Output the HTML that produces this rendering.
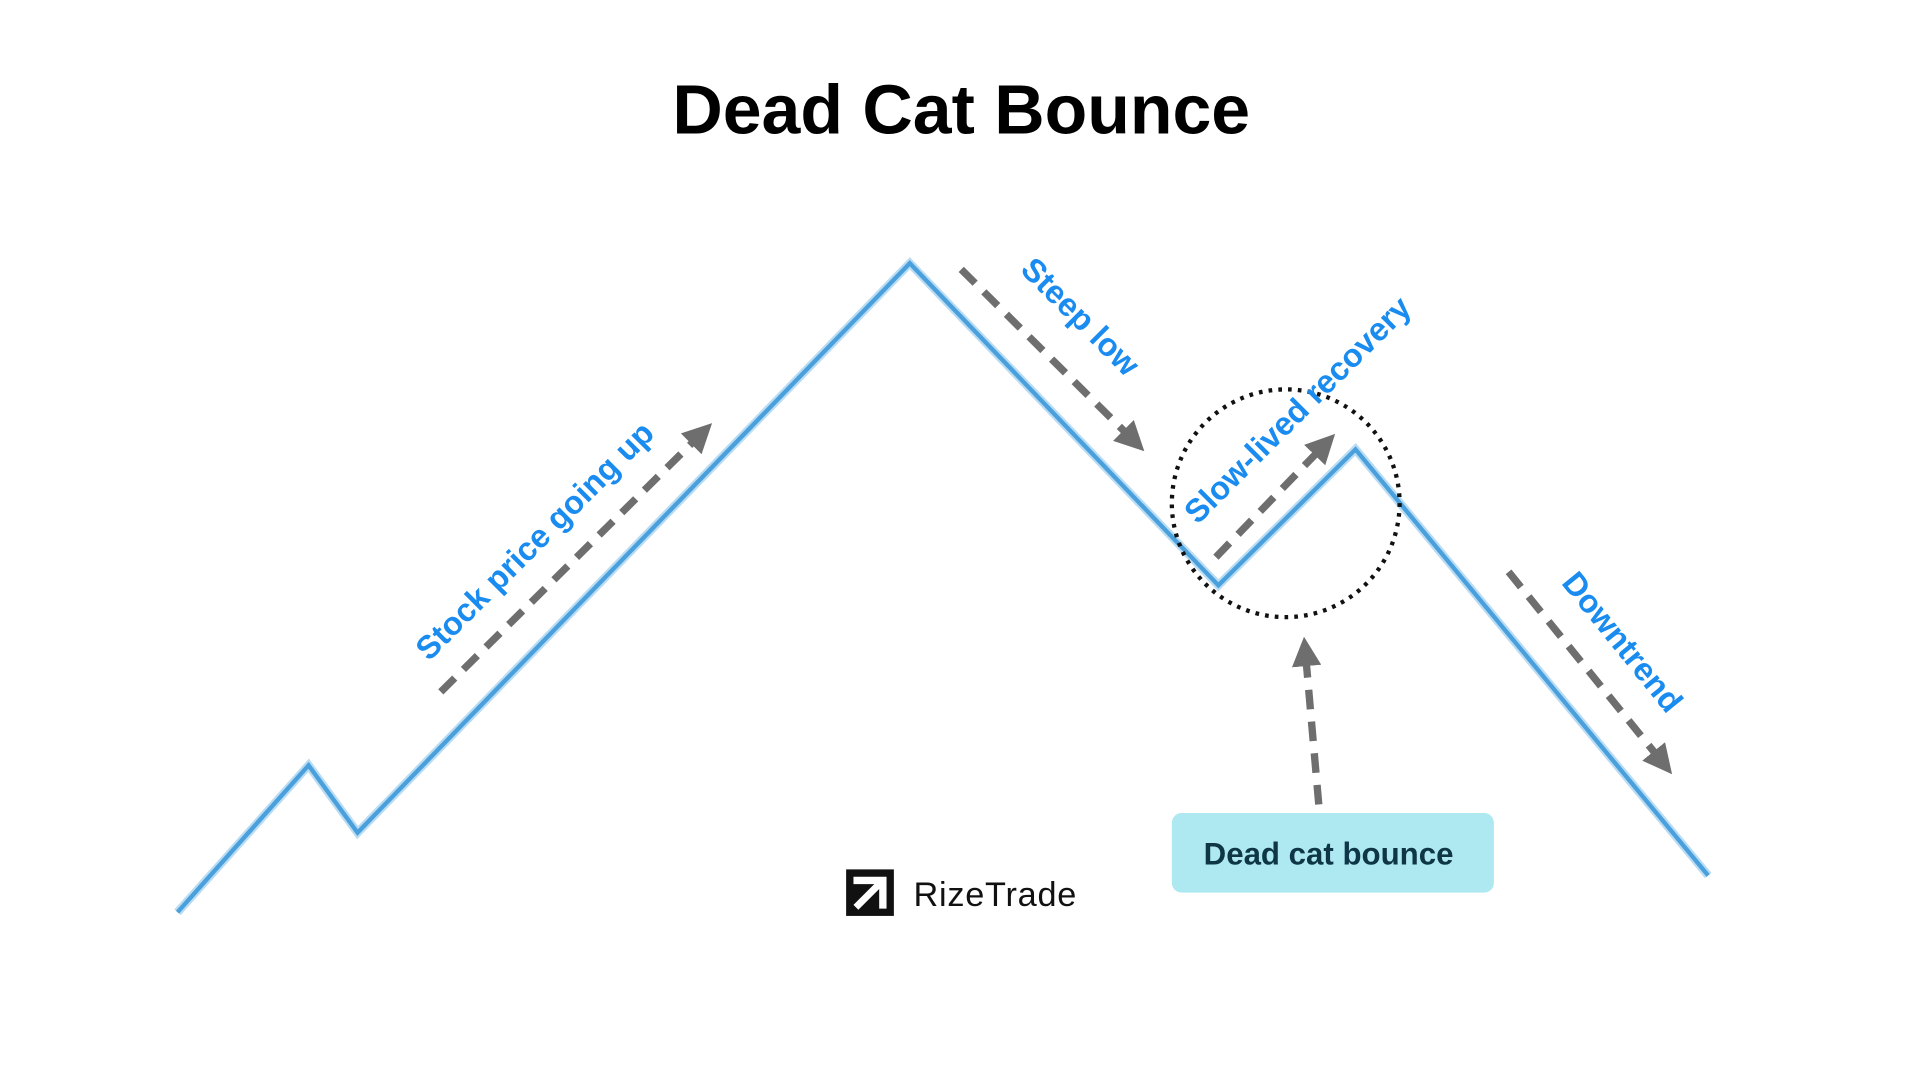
<!DOCTYPE html>
<html><head><meta charset="utf-8"><style>
html,body{margin:0;padding:0;background:#fff;width:1920px;height:1080px;overflow:hidden}
svg{display:block}
</style></head><body>
<svg width="1920" height="1080" viewBox="0 0 1568 882" xmlns="http://www.w3.org/2000/svg">
<defs>
<marker id="ah" markerWidth="4" markerHeight="4" refX="2" refY="2" orient="auto" markerUnits="strokeWidth">
<path d="M0,0 L4,2 L0,4 Z" fill="#6e6e6e"/>
</marker>
</defs>
<text x="785" y="109" text-anchor="middle" font-family="Liberation Sans, sans-serif" font-weight="bold" font-size="57" fill="#000">Dead Cat Bounce</text>
<polyline points="145,745 252,625 292,680 743,215 995,478 1107,367 1395,715" fill="none" stroke="#b9dcf3" stroke-width="7" stroke-linejoin="miter"/>
<polyline points="145,745 252,625 292,680 743,215 995,478 1107,367 1395,715" fill="none" stroke="#4aa0dc" stroke-width="3.5" stroke-linejoin="miter"/>
<g stroke="#6e6e6e" stroke-width="6" stroke-dasharray="16,10" fill="none" marker-end="url(#ah)">
<line x1="360" y1="565" x2="573" y2="354"/>
<line x1="785" y1="220" x2="926" y2="360"/>
<line x1="993" y1="455" x2="1082" y2="363"/>
<line x1="1232" y1="467" x2="1358" y2="623"/>
<line x1="1077" y1="657" x2="1066" y2="532"/>
</g>
<circle cx="1050" cy="411" r="93" fill="none" stroke="#111" stroke-width="3.5" stroke-dasharray="3,5"/>
<g font-family="Liberation Sans, sans-serif" font-weight="bold" font-size="26.5" fill="#1a8cf0" text-anchor="middle">
<text transform="translate(443,448) rotate(-45)">Stock price going up</text>
<text transform="translate(876,265) rotate(45)">Steep low</text>
<text transform="translate(1066,341) rotate(-45)">Slow-lived recovery</text>
<text transform="translate(1318,530) rotate(51)">Downtrend</text>
</g>
<rect x="957" y="664" width="263" height="65" rx="8" fill="#aee9f2"/>
<text x="1085" y="706" text-anchor="middle" font-family="Liberation Sans, sans-serif" font-weight="bold" font-size="25.5" fill="#0e3646">Dead cat bounce</text>
<rect x="691" y="710" width="39" height="38" fill="#111"/>
<path d="M697,716 L724,716 L724,742 L718,742 L718,726 L701,743 L697,739 L714,722 L697,722 Z" fill="#fff"/>
<text x="746" y="740" font-family="Liberation Sans, sans-serif" font-size="28" fill="#111" textLength="133">RizeTrade</text>
</svg>
</body></html>
